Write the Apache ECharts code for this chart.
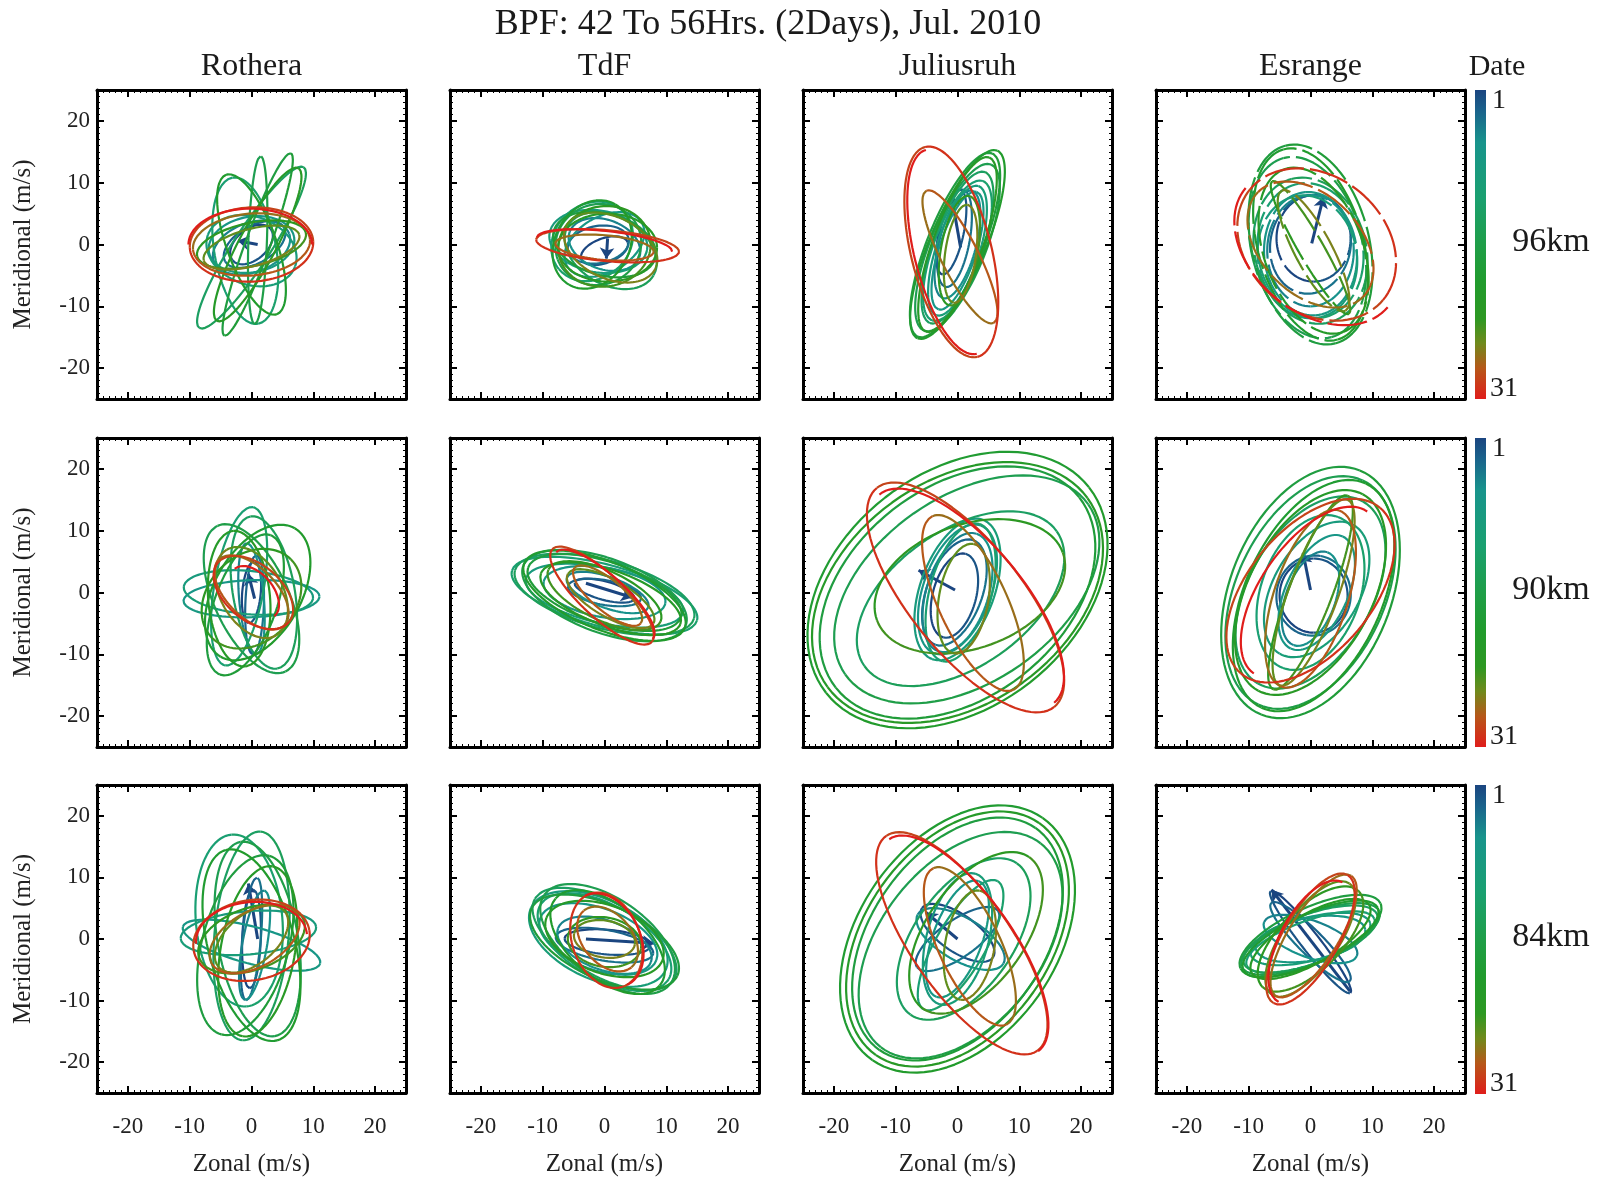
<!DOCTYPE html>
<html><head><meta charset="utf-8">
<script src="https://cdn.jsdelivr.net/npm/echarts@6/dist/echarts.min.js"></script>
<style>html,body{margin:0;padding:0;background:#fff}#c{width:1604px;height:1178px}</style>
</head><body><div id="c"></div><script>
// ---------------- data ----------------
const titleText = 'BPF: 42 To 56Hrs. (2Days), Jul. 2010';
const stations = ['Rothera', 'TdF', 'Juliusruh', 'Esrange'];
const heights = ['96km', '90km', '84km'];
const dayRange = [1, 31];
const tickValues = [-20, -10, 0, 10, 20];

// hodograph cycles, one per 2-day wave cycle (days 2k+1, 2k+2)
// each: [semi-major (m/s), semi-minor (m/s), tilt (deg), zonal centre, meridional centre]
const rothera96 = [[4,2.5,40,0,0],[5.5,3,30,0.5,0],[6.5,4,20,0,-0.5],[7,4.5,10,0,0],[7.5,5.5,-20,0,-1],[12,5,100,-1,-1],[15.5,3,57,0,-0.5],[13.6,1.5,88,1,0.7],[15.7,2,70,1,0],[12,4,-70,0,0],[14,3,62,1,0],[9,3.5,12,0,0],[8,3,15,0,-0.5],[9.5,5,5,0,0],[10,6,3,0,0],[10,5.8,0,-0.2,0]];
const tdf96 = [[4,2,20,0,-1],[5,3,10,-1,0],[6,4,-20,0,0],[7,4.5,30,0,0],[8,5,-10,-1,0.5],[7,6,40,-2,0.5],[8,5.5,-30,1,-1],[7,6.5,20,-1,0],[8.5,5,-15,0,0],[7.5,6,60,-2,0],[8,5.5,0,0.5,-0.5],[7.5,6.5,10,0,-0.3],[8,5,-25,1,-0.5],[8,2,-5,0,-0.5],[11.6,2.5,-5,0.5,-0.2],[11,2.2,-6,0,0]];
const julius96 = [[7,2,78,-1,2],[8,2.5,80,-0.5,1],[9,3,75,0,0],[10,3,72,0,-1],[11,3.5,72,0,-1],[12,4,70,0,-1],[13,4,70,0,-0.5],[14.5,4.5,68,0,-0.5],[16,4.5,68,-0.4,-0.1],[16.5,4.5,67,0,0],[15,4,70,0,0],[9,3,80,0.3,-1],[8,2.5,82,0.5,-1.5],[12,3,117,0.4,-2],[17.5,6.5,104,-1,-1.2],[17,6,104,-1,-1.2]];
const esrange96 = [[7,6,90,0.5,1],[8,6.5,80,0,0],[9,7,90,0,-1],[10,7.5,95,0,-1.5],[10,8,100,-0.5,-2],[11,8.5,100,0,-1],[12,9,105,0,-1],[15,9,105,-0.5,-0.5],[16.5,9.5,104,0,0],[16,8.5,106,0,0],[14,8,110,0.5,-1],[12.4,2,120,0,-0.5],[11,3,118,0.5,-1],[12,8,135,0,0],[14,11,140,1,0],[15,10.5,140,1,-0.5]];
const rothera90 = [[5,1.5,85,0,0],[8,1.5,88,0.5,-2],[9,2,95,0,-1],[11,3,2,0,-1],[10.5,3.5,-5,-0.5,0],[13,4,80,-2,1],[12.5,5,100,2,0],[13,6,115,0,-1],[12,5,70,-1,-2],[12,7,60,1,0],[11,5,95,-2,-1],[9,7,45,0,-1],[8,5,-60,0,0],[7.5,4,-45,0,0],[7.5,4.5,-40,0.3,0],[5,3,-50,0.5,0]];
const tdf90 = [[5,1.5,-15,0,0.3],[6,2,-10,0,0],[7,2.5,-20,0.5,0],[10,4,-10,0,0],[13,4.5,-12,0,-0.5],[15.5,5,-15,0,-0.5],[15,5.5,-15,0,-0.3],[14,6,-20,0,-0.5],[13,5,-18,0,0],[14,5.5,-22,0,-0.5],[12,4.5,-20,1,-1],[10,4,-25,0,-0.5],[8,3,-30,1,-1],[7,2.5,-40,0.5,-0.5],[11,3.5,-43,-0.4,-0.5],[10.5,3.3,-42,0,-0.5]];
const julius90 = [[7,3.5,75,-0.5,-0.5],[9,4.5,70,-0.5,0],[10,5,72,0,0],[11,5.5,70,0,0.5],[12,6,70,0,0.5],[11.5,5,75,0.5,0],[19,11,35,0.5,-1],[24,15,35,1.5,0.5],[25,17,38,0,0],[27,19,38,0,0.4],[26,18,36,0,0],[16,10,20,2,1],[9,4,80,1,-1],[15.5,5.5,-65,2.5,-1.7],[22.8,9,-51,1.3,-0.8],[22,9,-50,1.5,-1]];
const esrange90 = [[6,5.5,90,0.5,-0.5],[6.5,6,80,0.5,-0.5],[8,4,70,0,-1],[10,5,65,1,0],[12,7,60,1,0.5],[13,8,70,0,0],[17,10,60,0,0],[20,12,65,0,0],[21.3,13,68,0,0],[20,11,65,0.5,-0.5],[18,10,62,0,0],[16.8,3.5,69,0,0],[16,4,70,0.5,0],[15,6,72,0,-1],[17.5,10,50,0,0.3],[16,8,55,0,0]];
const rothera84 = [[8,1.5,88,0,0],[10,1.5,85,0,0],[9,2,80,0.5,-1],[11.5,3,-15,0,-1],[11,3.5,5,-0.5,1],[14,7,95,-2,3],[17,6,85,0,0.5],[16,6.5,100,1,0],[15,7,75,-1,-1],[16,7,105,0,-1],[14,6,80,1,-2],[9,5,20,0,0],[7,4,40,0,0],[8,4.5,30,0.5,0],[9.5,6.5,10,0,-0.2],[9,6,5,0,0]];
const tdf84 = [[7,2,-5,0.5,-0.5],[8,2.5,-10,0,-1],[8,4,-20,0,-1],[10,5,-20,-1,0],[12,6.5,-25,-1,0],[12,6,-30,0,-0.5],[13,6,-30,0,0],[12.5,6.5,-35,0.5,0],[13,6,-25,0,-0.5],[11,6,-40,0.5,-0.5],[10,5.5,-20,0,0],[6,4,-10,0,-0.5],[5,3,-10,0,0],[6,4,-50,0.5,0],[8,5.5,-70,0.3,-0.2],[8,5.5,-65,0.3,-0.2]];
const julius84 = [[7,3,-35,0,1],[8,3,35,0,0],[8,3.5,-30,0.5,0],[10,4,70,0,0],[11,5,75,0,0],[12,4,60,0.5,-1],[15,8,55,1,0],[21,13,52,0.5,-1],[22,14,55,0,0],[24,16,55,0,0],[23,15,55,0,0],[15,8,55,3,1],[9,4,80,2,-1],[14,5,-65,2,-1.2],[21.3,8,-55,0.7,-0.7],[21,8,-55,1,-1]];
const esrange84 = [[10.5,1.5,-52,0,-0.5],[9,2,-45,0,-0.5],[8,3,-20,0,0],[9,3.5,10,0,0],[10,3.5,15,0,0],[11,3.5,20,0,-0.5],[11.5,4,20,0,0],[12,4,22,0,0],[12.5,4.5,25,0,0.5],[12,4,25,0,0],[11,4,30,0,0],[11,5,45,0,0],[11,4.5,55,0,0],[11.5,4,58,0.5,0.5],[12,4.5,60,0,0],[11,5,62,0,-0.5]];

// day-1 start arrows: [u0, v0, u1, v1]
const arrows96 = [[1,0,-2.2,0.6],[0.5,1,0.3,-2.3],[0.5,-0.5,-1,8],[0.2,0.2,2.1,7.7]];
const arrows90 = [[0.5,-1,-0.5,3],[-3,1.5,4.5,-0.8],[-0.4,0.4,-6.3,3.6],[0,0.4,-1.2,6.4]];
const arrows84 = [[1,0,-0.5,9],[-3,0,8,-0.7],[0,0,-5.1,4.3],[6.4,-8.5,-6.3,8]];

const panelData = [
  [rothera96, tdf96, julius96, esrange96],
  [rothera90, tdf90, julius90, esrange90],
  [rothera84, tdf84, julius84, esrange84]
];
const panelArrows = [arrows96, arrows90, arrows84];

// ---------------- style / layout ----------------
const FONT = '"Liberation Serif", "Times New Roman", serif';
const colLeft = [97, 450, 803, 1156];
const rowTop = [90, 438, 785];
const SIZE = 309;
const cbX = 1475, cbW = 11;
const dashedPanels = ['0-3']; // broken trace in the Esrange 96km panel

const cmapStops = [
  [0.00, [27, 69, 128]],
  [0.07, [26, 100, 140]],
  [0.17, [24, 148, 140]],
  [0.35, [26, 160, 112]],
  [0.50, [31, 158, 72]],
  [0.62, [33, 155, 45]],
  [0.74, [45, 152, 34]],
  [0.82, [112, 138, 28]],
  [0.90, [182, 88, 25]],
  [1.00, [224, 29, 27]]
];
function dayColor(d) {
  const f = (d - dayRange[0]) / (dayRange[1] - dayRange[0]);
  for (let i = 1; i < cmapStops.length; i++) {
    if (f <= cmapStops[i][0]) {
      const [f0, c0] = cmapStops[i - 1], [f1, c1] = cmapStops[i];
      const t = (f - f0) / (f1 - f0);
      const c = c0.map((v, k) => Math.round(v + (c1[k] - v) * t));
      return 'rgb(' + c.join(',') + ')';
    }
  }
  return 'rgb(' + cmapStops[cmapStops.length - 1][1].join(',') + ')';
}

// ellipse trace of one day from cycle parameters
function dayTrace(cyc, d) {
  const k = Math.floor((d - 1) / 2), h = (d - 1) % 2;
  const [a, b, tilt, cu, cv] = cyc[Math.min(k, cyc.length - 1)];
  const th = tilt * Math.PI / 180;
  const pts = [];
  const N = 48;
  for (let i = 0; i <= N; i++) {
    const t = (h + i / N) * Math.PI;
    const x = a * Math.cos(t), y = b * Math.sin(t);
    pts.push([cu + x * Math.cos(th) - y * Math.sin(th), cv + x * Math.sin(th) + y * Math.cos(th)]);
  }
  return pts;
}

const grids = [], xAxes = [], yAxes = [], series = [], graphics = [];
function axisBase(gi, pos, labels, isX) {
  return {
    type: 'value', gridIndex: gi, position: pos, min: -25, max: 25, splitNumber: 5,
    axisLine: { show: true, onZero: false, lineStyle: { color: '#000', width: 3 } },
    axisTick: { show: true, inside: true, length: 7, lineStyle: { color: '#000', width: 2 } },
    minorTick: { show: true, splitNumber: 10, length: 3, lineStyle: { color: '#000', width: 1 } },
    splitLine: { show: false }, minorSplitLine: { show: false },
    axisLabel: {
      show: labels, margin: isX ? 22 : 7, fontFamily: FONT, fontSize: 23, color: '#222',
      padding: isX ? 0 : [5, 0, 0, 0],
      formatter: v => (tickValues.indexOf(v) >= 0 ? String(v) : '')
    }
  };
}

for (let r = 0; r < 3; r++) {
  for (let c = 0; c < 4; c++) {
    const gi = r * 4 + c;
    grids.push({ left: colLeft[c], top: rowTop[r], width: SIZE, height: SIZE, show: false });
    const xb = axisBase(gi, 'bottom', r === 2, true);
    if (r === 2) Object.assign(xb, { name: 'Zonal (m/s)', nameLocation: 'middle', nameGap: 59,
      nameTextStyle: { fontFamily: FONT, fontSize: 25, color: '#222' } });
    xAxes.push(xb);
    xAxes.push(axisBase(gi, 'top', false, true));
    const yl = axisBase(gi, 'left', c === 0, false);
    if (c === 0) Object.assign(yl, { name: 'Meridional (m/s)', nameLocation: 'middle', nameGap: 61,
      nameTextStyle: { fontFamily: FONT, fontSize: 25, color: '#222' } });
    yAxes.push(yl);
    yAxes.push(axisBase(gi, 'right', false, false));

    const cyc = panelData[r][c];
    const dashed = dashedPanels.indexOf(r + '-' + c) >= 0;
    for (let d = dayRange[0]; d <= dayRange[1]; d++) {
      series.push({
        type: 'line', xAxisIndex: 2 * gi, yAxisIndex: 2 * gi, data: dayTrace(cyc, d),
        showSymbol: false, symbol: 'none', silent: true, animation: false, clip: true,
        lineStyle: { color: dayColor(d), width: 2.2, type: dashed ? [40, 6] : 'solid' }
      });
    }
    const ar = panelArrows[r][c];
    series.push({
      type: 'lines', coordinateSystem: 'cartesian2d', xAxisIndex: 2 * gi, yAxisIndex: 2 * gi,
      symbol: ['none', 'arrow'], symbolSize: 11, silent: true, animation: false,
      lineStyle: { color: dayColor(1), width: 3, opacity: 1, curveness: 0 },
      data: [{ coords: [[ar[0], ar[1]], [ar[2], ar[3]]] }]
    });
  }
}

function txt(text, x, y, size, align, valign) {
  return { type: 'text', silent: true, style: { text, x, y, font: size + 'px ' + FONT, fill: '#1a1a1a',
    textAlign: align, align: align, textVerticalAlign: valign, verticalAlign: valign } };
}
graphics.push(txt(titleText, 768, 25, 36, 'center', 'middle'));
stations.forEach((s, c) => graphics.push(txt(s, colLeft[c] + SIZE / 2, 67, 32, 'center', 'middle')));
graphics.push(txt('Date', 1497, 67, 30, 'center', 'middle'));
const gradStops = cmapStops.map(s => ({ offset: s[0], color: 'rgb(' + s[1].join(',') + ')' }));
heights.forEach((h, r) => {
  graphics.push({ type: 'rect', silent: true, shape: { x: cbX, y: rowTop[r], width: cbW, height: SIZE },
    style: { fill: new echarts.graphic.LinearGradient(0, 0, 0, 1, gradStops) } });
  graphics.push(txt(String(dayRange[0]), 1492, rowTop[r] + 11, 28, 'left', 'middle'));
  graphics.push(txt(String(dayRange[1]), 1490, rowTop[r] + SIZE - 10, 28, 'left', 'middle'));
  graphics.push(txt(h, 1551, rowTop[r] + SIZE / 2 - 2, 34, 'center', 'middle'));
});

const chart = echarts.init(document.getElementById('c'), null, { renderer: 'canvas' });
chart.setOption({
  backgroundColor: '#fff', animation: false,
  grid: grids, xAxis: xAxes, yAxis: yAxes, series: series, graphic: graphics
});
</script></body></html>
